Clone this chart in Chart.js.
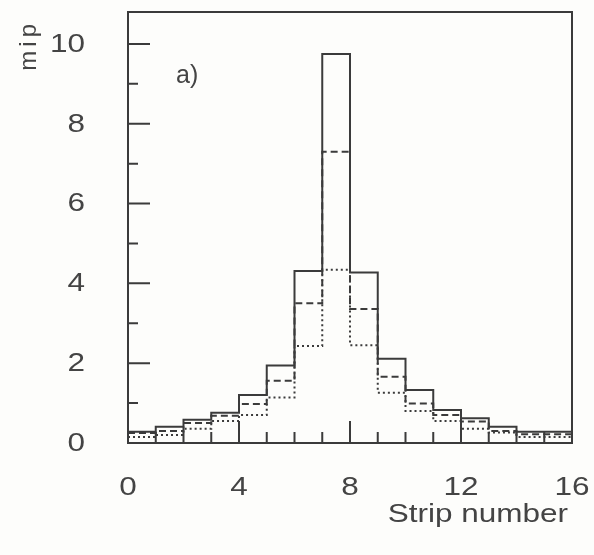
<!DOCTYPE html>
<html>
<head>
<meta charset="utf-8">
<script src="https://cdn.jsdelivr.net/npm/chart.js@4.4.1/dist/chart.umd.min.js"></script>
<style>
  html, body { margin: 0; padding: 0; background: #fdfdfb; }
  #wrap { width: 594px; height: 555px; }
</style>
</head>
<body>
<div id="wrap"><canvas id="stripChart"></canvas></div>
<script>
// strip edges 0..16, one value per strip
const strips = [0, 1, 2, 3, 4, 5, 6, 7, 8, 9, 10, 11, 12, 13, 14, 15];
const solid_vals  = [0.28, 0.41, 0.58, 0.76, 1.20, 1.94, 4.31, 9.75, 4.27, 2.11, 1.33, 0.83, 0.62, 0.41, 0.28, 0.28];
const dashed_vals = [0.25, 0.30, 0.50, 0.68, 0.98, 1.56, 3.50, 7.30, 3.36, 1.66, 0.99, 0.70, 0.54, 0.30, 0.22, 0.22];
const dotted_vals = [0.15, 0.20, 0.36, 0.55, 0.70, 1.14, 2.43, 4.34, 2.45, 1.26, 0.80, 0.55, 0.36, 0.26, 0.15, 0.15];
const x_labels = [0, 4, 8, 12, 16];
const y_labels = [0, 2, 4, 6, 8, 10];

const ink = '#3b3b3b';
const txt = '#444';
const font = 'Liberation Sans, Arial, Helvetica, sans-serif';
const stretch = 1.26;  // the scanned lettering is wider than the font

// histogram outline: each strip held from its left edge to the next one
function steps(vals) {
  const pts = strips.map((s, i) => ({ x: s, y: vals[i] }));
  pts.push({ x: strips[strips.length - 1] + 1, y: vals[vals.length - 1] });
  return pts;
}

function histSet(label, vals, dash) {
  return {
    label: label,
    data: steps(vals),
    stepped: 'before',
    borderColor: ink,
    borderWidth: 2,
    borderDash: dash,
    pointRadius: 0,
    fill: false
  };
}

// no extra edge padding from the tick labels
function noPad(scale) {
  scale.paddingTop = 0;
  scale.paddingBottom = 0;
  scale.paddingLeft = 0;
  scale.paddingRight = 0;
}

function wideText(c, s, x, y, align) {
  c.save();
  c.translate(x, y);
  c.scale(stretch, 1);
  c.textAlign = align;
  c.fillText(s, 0, 0);
  c.restore();
}

// frame, inward tick marks, labels and the "a)" tag
const framePlugin = {
  id: 'frame',
  beforeDraw(chart) {
    const c = chart.ctx;
    c.save();
    c.fillStyle = '#fdfdfb';
    c.fillRect(0, 0, chart.width, chart.height);
    c.restore();
  },
  afterDraw(chart) {
    const c = chart.ctx;
    const a = chart.chartArea;
    const xs = chart.scales.x, ys = chart.scales.y;
    c.save();
    c.strokeStyle = ink;
    c.lineWidth = 2;
    c.strokeRect(a.left, a.top, a.right - a.left, a.bottom - a.top);
    c.beginPath();
    for (let v = 0; v <= 16; v++) {
      const px = xs.getPixelForValue(v);
      const len = v % 4 === 0 ? 22 : 11;
      c.moveTo(px, a.bottom);
      c.lineTo(px, a.bottom - len);
    }
    for (let v = 0; v <= 10; v++) {
      const py = ys.getPixelForValue(v);
      const len = v % 2 === 0 ? 22 : 10;
      c.moveTo(a.left, py);
      c.lineTo(a.left + len, py);
    }
    c.stroke();

    c.fillStyle = txt;
    c.font = '25px ' + font;
    c.textBaseline = 'middle';
    x_labels.forEach(v => wideText(c, String(v), xs.getPixelForValue(v), a.bottom + 45, 'center'));
    y_labels.forEach(v => wideText(c, String(v), a.left - 43, ys.getPixelForValue(v) + 1, 'right'));
    wideText(c, 'Strip number', a.right - 4, a.bottom + 72, 'right');

    c.textAlign = 'left';
    c.fillText('a)', a.left + 48, a.top + 64);

    c.font = '24px ' + font;
    c.letterSpacing = '4px';
    c.translate(a.left - 99, a.top + 8);
    c.rotate(-Math.PI / 2);
    c.textAlign = 'right';
    c.fillText('mip', 0, 0);
    c.restore();
  }
};

new Chart(document.getElementById('stripChart'), {
  type: 'line',
  data: {
    datasets: [
      histSet('solid', solid_vals, []),
      histSet('dashed', dashed_vals, [7, 4]),
      histSet('dotted', dotted_vals, [2, 3])
    ]
  },
  options: {
    responsive: true,
    maintainAspectRatio: false,
    animation: false,
    layout: { padding: { left: 8, right: 22, top: 12, bottom: 20 } },
    plugins: { legend: { display: false }, tooltip: { enabled: false } },
    scales: {
      x: {
        type: 'linear',
        min: 0,
        max: 16,
        afterFit(scale) { scale.height = 92; noPad(scale); },
        afterBuildTicks(scale) { scale.ticks = x_labels.map(v => ({ value: v })); },
        grid: { display: false, drawTicks: false },
        border: { display: false },
        ticks: { display: false }
      },
      y: {
        min: 0,
        max: 10.8,
        afterFit(scale) { scale.width = 120; noPad(scale); },
        afterBuildTicks(scale) { scale.ticks = y_labels.map(v => ({ value: v })); },
        grid: { display: false, drawTicks: false },
        border: { display: false },
        ticks: { display: false }
      }
    }
  },
  plugins: [framePlugin]
});
</script>
</body>
</html>
